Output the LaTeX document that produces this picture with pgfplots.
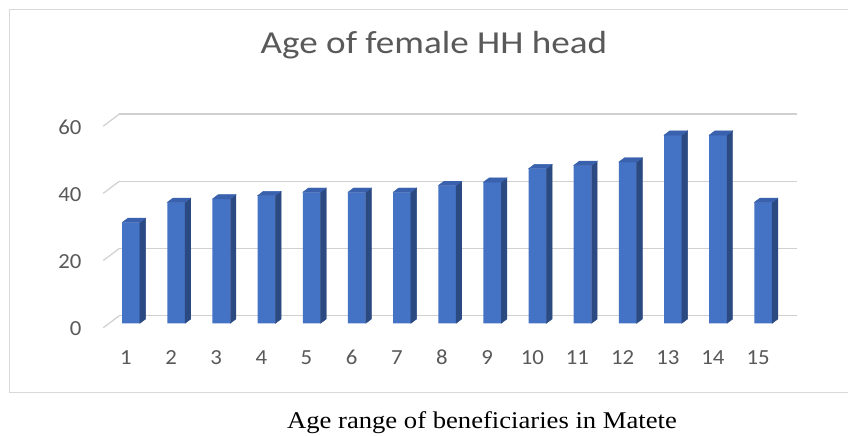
\documentclass[border=0pt]{standalone}
\usepackage{fontspec}
\setmainfont{Carlito}
\newfontfamily\capfont{Liberation Serif}
\usepackage{graphicx}
\usepackage{pgfplots}
\usepackage{pgfplotstable}
\pgfplotsset{compat=1.18}
\definecolor{front}{HTML}{4472C4}
\definecolor{side}{HTML}{2B4A82}
\definecolor{topc}{HTML}{3961AD}
\definecolor{gridc}{HTML}{D0D0D0}
\definecolor{txt}{HTML}{595959}
\definecolor{bordc}{HTML}{D9D9D9}

\pgfplotstableread{
x v
1 30
2 36
3 37
4 38
5 39
6 39
7 39
8 41
9 42
10 46
11 47
12 48
13 56
14 56
15 36
}\agedata

\begin{document}
\begin{tikzpicture}
\path[use as bounding box] (0,0) rectangle (848pt,436pt);
\fill[white] (0,0) rectangle (848pt,436pt);
\draw[bordc, line width=1.5pt] (849pt,43.3pt) -- (9.5pt,43.3pt) -- (9.5pt,426.5pt) -- (849pt,426.5pt);
\begin{axis}[
  at={(111.3pt,112.7pt)}, anchor=south west,
  scale only axis, width=677.4pt, height=201.6pt,
  xmin=0.5, xmax=15.5, ymin=0, ymax=60,
  xtick={1,...,15}, ytick={0,20,40,60},
  axis line style={draw=none}, tick style={draw=none},
  ymajorgrids, major grid style={gridc, line width=1.2pt, xshift=8pt, yshift=7.6pt},
  /pgf/number format/assume math mode=true,
  tick label style={font=\fontsize{21.5}{24}\selectfont, text=txt},
  xticklabel={\scalebox{1.06}[1]{\pgfmathprintnumber{\tick}}},
  yticklabel={\scalebox{1.06}[1]{\pgfmathprintnumber{\tick}}},
  yticklabel style={anchor=east, inner sep=0pt, xshift=-29.6pt, yshift=-5.5pt},
  xticklabel style={anchor=center, inner sep=0pt, xshift=-8pt, yshift=-34pt},
  clip=false,
]
\pgfplotsinvokeforeach{0,20,40,60}{
  \draw[gridc, line width=1.2pt] ([xshift=-8pt,yshift=-4.4pt]axis cs:0.5,#1) -- ([xshift=8pt,yshift=7.6pt]axis cs:0.5,#1);
}
\addplot[ybar, bar width=17.8pt, bar shift=-2.85pt, fill=front, draw=none] table[x=x,y=v] {\agedata};
\addplot[scatter, only marks, mark=*, mark size=0pt,
  point meta=y, point meta min=0, point meta max=60,
  scatter/@pre marker code/.code={
    \pgfmathsetmacro\hh{\pgfplotspointmetatransformed*0.2016}
    \fill[side] (6.05pt,0pt) -- (11.75pt,4.3pt) -- (11.75pt,4.3pt-\hh pt) -- (6.05pt,-\hh pt) -- cycle;
    \fill[topc] (-11.75pt,0pt) -- (6.05pt,0pt) -- (11.75pt,4.3pt) -- (-6.05pt,4.3pt) -- cycle;
    \pgfscope
  },
  scatter/@post marker code/.code={\endpgfscope}
] table[x=x,y=v] {\agedata};
\end{axis}
\node[anchor=base, text=txt, font=\fontsize{32}{36}\selectfont] at (433.9pt,382.7pt) {\scalebox{1.16}[1]{Age of female HH head}};
\node[anchor=base, font=\capfont\fontsize{24}{28}\selectfont] at (482pt,7.7pt) {\scalebox{1.11}[1]{Age range of beneficiaries in Matete}};
\end{tikzpicture}
\end{document}
